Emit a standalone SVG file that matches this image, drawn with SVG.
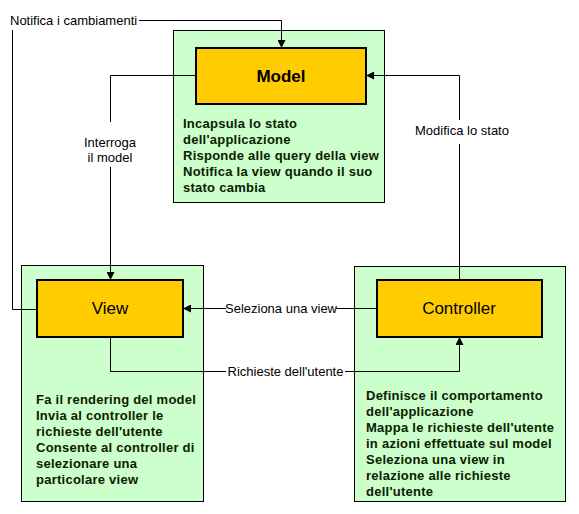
<svg xmlns="http://www.w3.org/2000/svg" width="579" height="514" viewBox="0 0 579 514">
<style>
.outer{fill:#CCFFCC;stroke:#000;stroke-width:1}
.inner{fill:#FFCC00;stroke:#000;stroke-width:2}
.title{font-family:"Liberation Sans",Arial,sans-serif;font-size:17px;fill:#000;text-anchor:middle}
.desc{font-family:"Liberation Sans",Arial,sans-serif;font-size:13px;font-weight:bold;fill:#0a2000;letter-spacing:0.25px}
.lbl{font-family:"Liberation Sans",Arial,sans-serif;font-size:13px;fill:#000}
.conn{fill:none;stroke:#000;stroke-width:1}
</style>
<defs>
<marker id="arr" viewBox="0 0 10 10" refX="10" refY="5" markerWidth="8" markerHeight="8" markerUnits="userSpaceOnUse" orient="auto">
<path d="M0,0 L10,5 L0,10 z" fill="#000"/>
</marker>
</defs>
<rect width="579" height="514" fill="#fff"/>
<g id="model">
<rect class="outer" x="173.5" y="30.5" width="211" height="172"/>
<rect class="inner" x="196" y="48" width="170" height="56"/>
<text class="title" x="281" y="82" font-weight="bold">Model</text>
<text class="desc" x="183" y="128">Incapsula lo stato</text>
<text class="desc" x="183" y="144">dell'applicazione</text>
<text class="desc" x="183" y="160">Risponde alle query della view</text>
<text class="desc" x="183" y="176">Notifica la view quando il suo</text>
<text class="desc" x="183" y="192">stato cambia</text>
</g>
<g id="view">
<rect class="outer" x="21.5" y="265.5" width="182" height="236"/>
<rect class="inner" x="37" y="280" width="146" height="57"/>
<text class="title" x="110" y="314">View</text>
<text class="desc" x="36" y="404">Fa il rendering del model</text>
<text class="desc" x="36" y="420">Invia al controller le</text>
<text class="desc" x="36" y="436">richieste dell'utente</text>
<text class="desc" x="36" y="452">Consente al controller di</text>
<text class="desc" x="36" y="468">selezionare una</text>
<text class="desc" x="36" y="484">particolare view</text>
</g>
<g id="controller">
<rect class="outer" x="354.5" y="266.5" width="211" height="235"/>
<rect class="inner" x="377" y="280" width="165" height="57"/>
<text class="title" x="459" y="314">Controller</text>
<text class="desc" x="366" y="400">Definisce il comportamento</text>
<text class="desc" x="366" y="416">dell'applicazione</text>
<text class="desc" x="366" y="432">Mappa le richieste dell'utente</text>
<text class="desc" x="366" y="448">in azioni effettuate sul model</text>
<text class="desc" x="366" y="464">Seleziona una view in</text>
<text class="desc" x="366" y="480">relazione alle richieste</text>
<text class="desc" x="366" y="496">dell'utente</text>
</g>
<g id="connectors">
<path class="conn" d="M37,309.5 H12.5 V30"/>
<path class="conn" d="M139,20.5 H281.5 V48" marker-end="url(#arr)"/>
<text class="lbl" x="10" y="25">Notifica i cambiamenti</text>
<path class="conn" d="M196,75.5 H110.5 V122"/>
<path class="conn" d="M110.5,167 V280" marker-end="url(#arr)"/>
<text class="lbl" x="110" y="147" text-anchor="middle">Interroga</text>
<text class="lbl" x="110" y="162" text-anchor="middle">il model</text>
<path class="conn" d="M459.5,280 V144"/>
<path class="conn" d="M459.5,120 V75.5 H366" marker-end="url(#arr)"/>
<text class="lbl" x="462" y="135" text-anchor="middle">Modifica lo stato</text>
<path class="conn" d="M377,308.5 H336"/>
<path class="conn" d="M226,308.5 H183" marker-end="url(#arr)"/>
<text class="lbl" x="281" y="313" text-anchor="middle" font-size="12.5">Seleziona una view</text>
<path class="conn" d="M110.5,337 V371.5 H226"/>
<path class="conn" d="M345,371.5 H459.5 V337" marker-end="url(#arr)"/>
<text class="lbl" x="285.5" y="376" text-anchor="middle">Richieste dell'utente</text>
</g>
</svg>
